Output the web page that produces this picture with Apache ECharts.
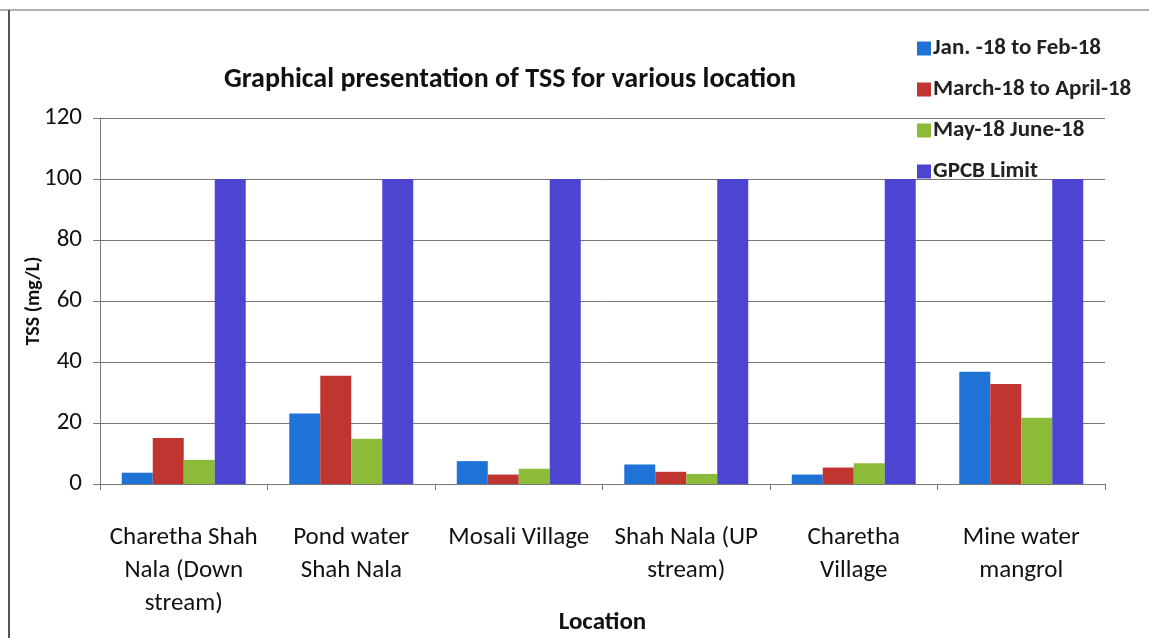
<!DOCTYPE html>
<html>
<head>
<meta charset="utf-8">
<script src="https://cdn.jsdelivr.net/npm/echarts@6/dist/echarts.min.js"></script>
<style>
  html, body { margin: 0; padding: 0; background: #fff; }
  #chart { width: 1149px; height: 638px; }
</style>
</head>
<body>
<div id="chart"></div>
<script>
// 数据
const locations = [
  'Charetha Shah\nNala (Down\nstream)',
  'Pond water\nShah Nala',
  'Mosali Village',
  'Shah Nala (UP\nstream)',
  'Charetha\nVillage',
  'Mine water\nmangrol'
];
const janFeb = [3.7, 23.1, 7.5, 6.4, 3.1, 36.8];
const marApr = [15.1, 35.5, 3.1, 4.0, 5.4, 32.8];
const mayJun = [7.9, 14.8, 5.0, 3.3, 6.8, 21.7];
const gpcbLimit = [100, 100, 100, 100, 100, 100];
const seriesNames = ['Jan. -18 to Feb-18', 'March-18 to April-18', 'May-18 June-18', 'GPCB Limit'];
const colors = ['#1f72d6', '#c0352f', '#8cbb3a', '#4b45d2'];

const font = "Carlito, 'Liberation Sans Narrow', 'DejaVu Sans Condensed', 'Noto Sans', sans-serif";

const chart = echarts.init(document.getElementById('chart'));
const mkSeries = (name, data, color) => ({
  name: name,
  type: 'bar',
  data: data,
  barGap: '0%',
  barCategoryGap: '26%',
  itemStyle: { color: color }
});

chart.setOption({
  animation: false,
  textStyle: { fontFamily: font },
  title: {
    text: 'Graphical presentation of TSS for various location',
    left: 505,
    textAlign: 'center',
    top: 61,
    textStyle: { fontFamily: font, fontSize: 28, fontWeight: 'bold', color: '#111' }
  },
  legend: {
    orient: 'vertical',
    left: 912,
    top: 32,
    itemWidth: 14,
    itemHeight: 14,
    itemGap: 18,
    icon: 'rect',
    data: seriesNames,
    textStyle: { fontFamily: font, fontSize: 23, fontWeight: 'bold', color: '#222', padding: [0, 0, 0, -3] }
  },
  grid: { left: 100, right: 44, top: 118, bottom: 154, outerBoundsMode: 'none' },
  xAxis: {
    type: 'category',
    data: locations,
    name: 'Location',
    nameLocation: 'middle',
    nameGap: 126,
    nameMoveOverlap: false,
    nameTextStyle: { fontFamily: font, fontSize: 25, fontWeight: 'bold', color: '#111' },
    axisLine: { lineStyle: { color: '#777' } },
    axisTick: { show: true, length: 6, lineStyle: { color: '#777' } },
    axisLabel: { interval: 0, fontFamily: font, fontSize: 25, color: '#111', lineHeight: 33, margin: 37 }
  },
  yAxis: {
    type: 'value',
    min: 0,
    max: 120,
    interval: 20,
    name: 'TSS (mg/L)',
    nameLocation: 'middle',
    nameGap: 56,
    nameMoveOverlap: false,
    nameTextStyle: { fontFamily: font, fontSize: 20, fontWeight: 'bold', color: '#111' },
    axisLine: { show: true, lineStyle: { color: '#777' } },
    axisTick: { show: true, length: 7, lineStyle: { color: '#777' } },
    axisLabel: { fontFamily: font, fontSize: 25, color: '#111', margin: 18 },
    splitLine: { lineStyle: { color: '#777', width: 1 } }
  },
  graphic: [
    { type: 'line', shape: { x1: 0, y1: 10, x2: 1149, y2: 10 }, style: { stroke: '#999', lineWidth: 1.5 } },
    { type: 'line', shape: { x1: 9, y1: 10, x2: 9, y2: 638 }, style: { stroke: '#555', lineWidth: 2 } }
  ],
  series: [
    mkSeries(seriesNames[0], janFeb, colors[0]),
    mkSeries(seriesNames[1], marApr, colors[1]),
    mkSeries(seriesNames[2], mayJun, colors[2]),
    mkSeries(seriesNames[3], gpcbLimit, colors[3])
  ]
});

window.addEventListener('resize', () => chart.resize());
</script>
</body>
</html>
